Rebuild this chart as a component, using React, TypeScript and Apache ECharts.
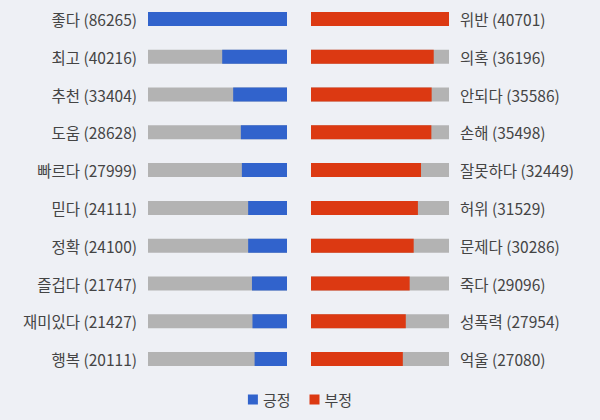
import React, { useEffect, useRef } from "react";
import * as echarts from "echarts";

const posWords = ["좋다", "최고", "추천", "도움", "빠르다", "믿다", "정확", "즐겁다", "재미있다", "행복"];
const posValues = [86265, 40216, 33404, 28628, 27999, 24111, 24100, 21747, 21427, 20111];
const negWords = ["위반", "의혹", "안되다", "손해", "잘못하다", "허위", "문제다", "죽다", "성폭력", "억울"];
const negValues = [40701, 36196, 35586, 35498, 32449, 31529, 30286, 29096, 27954, 27080];
const seriesNames = ["긍정", "부정"];

const FONT = '"Noto Sans CJK KR", "Noto Sans", sans-serif';

export default function App() {
  const ref = useRef<HTMLDivElement>(null);
  useEffect(() => {
    if (!ref.current) return;
    const chart = echarts.init(ref.current, undefined, { renderer: "svg" });
    const posLabels = posWords.map((w, i) => `${w} (${posValues[i]})`);
    const negLabels = negWords.map((w, i) => `${w} (${negValues[i]})`);
    const posMax = Math.max(...posValues);
    const negMax = Math.max(...negValues);
    chart.setOption({
      animation: false,
      backgroundColor: "#eef0f5",
      textStyle: { fontFamily: FONT },
      legend: {
        bottom: 8,
        left: "center",
        icon: "rect",
        itemWidth: 10,
        itemHeight: 10,
        itemGap: 19,
        textStyle: { fontFamily: FONT, fontSize: 15, color: "#444" },
        data: seriesNames,
      },
      grid: [
        { left: 148, width: 139, top: -2, height: 380 },
        { left: 311, width: 138, top: -2, height: 380 },
      ],
      xAxis: [
        { type: "value", gridIndex: 0, min: 0, max: posMax, inverse: true, show: false },
        { type: "value", gridIndex: 1, min: 0, max: negMax, show: false },
      ],
      yAxis: [
        {
          type: "category",
          gridIndex: 0,
          data: posLabels,
          inverse: true,
          position: "left",
          axisLine: { show: false },
          axisTick: { show: false },
          axisLabel: { margin: 11, fontSize: 15.5, color: "#444", fontFamily: FONT },
        },
        {
          type: "category",
          gridIndex: 1,
          data: negLabels,
          inverse: true,
          position: "right",
          axisLine: { show: false },
          axisTick: { show: false },
          axisLabel: { margin: 11, fontSize: 15.5, color: "#444", fontFamily: FONT },
        },
      ],
      series: [
        {
          name: seriesNames[0],
          type: "bar",
          xAxisIndex: 0,
          yAxisIndex: 0,
          data: posValues,
          barWidth: 14,
          itemStyle: { color: "#3163cc" },
          showBackground: true,
          backgroundStyle: { color: "#b3b3b3" },
        },
        {
          name: seriesNames[1],
          type: "bar",
          xAxisIndex: 1,
          yAxisIndex: 1,
          data: negValues,
          barWidth: 14,
          itemStyle: { color: "#dc3912" },
          showBackground: true,
          backgroundStyle: { color: "#b3b3b3" },
        },
      ],
    });
    return () => chart.dispose();
  }, []);
  return (
    <div
      ref={ref}
      style={{ position: "fixed", left: 0, top: 0, width: 600, height: 420 }}
    />
  );
}
